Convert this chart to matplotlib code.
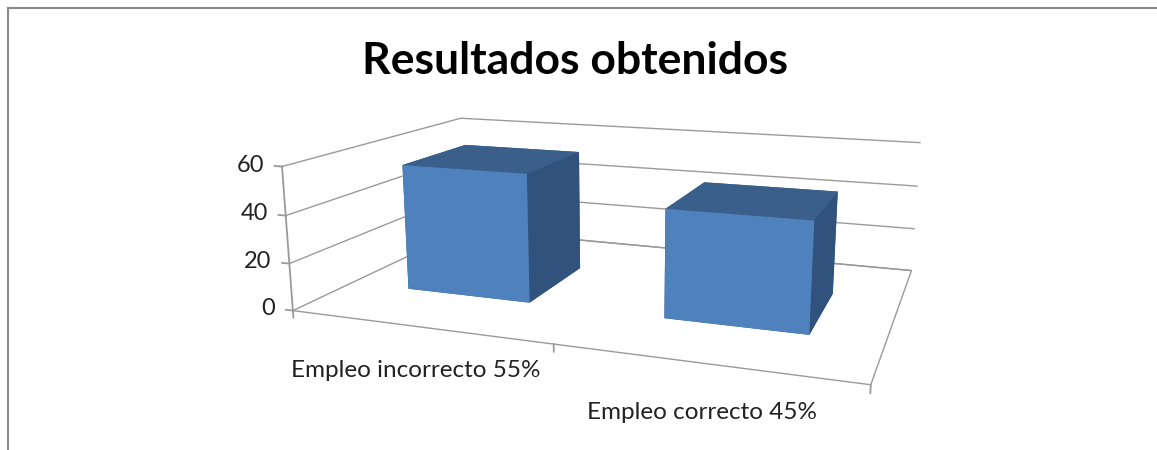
# Resultados obtenidos - 3D bars
import numpy as np
import matplotlib
matplotlib.use('Agg')
import matplotlib.pyplot as plt
from matplotlib.lines import Line2D

categories = ['Empleo incorrecto 55%', 'Empleo correcto 45%']
values = [55, 45]
z_ticks = [0, 20, 40, 60]
x_ticks = [0, 1, 2]
title = 'Resultados obtenidos'

W, H = 1157, 450
fig = plt.figure(figsize=(W/100, H/100), dpi=100, facecolor='white')

# Big square axes so the box can fill the wide figure
ax = fig.add_axes([0.0235, -0.815, 1.0, 1157/450], projection='3d', computed_zorder=False)
ax.set_axis_off()
ax.patch.set_visible(False)
ax.set_proj_type('persp', focal_length=0.17)
ax.view_init(elev=13.5, azim=-70)
ax.set_box_aspect((2.6, 1.65, 0.67), zoom=0.55)
ax.set_xlim(0, 2)
ax.set_ylim(0, 1)
ax.set_zlim(0, 60)

line_col = '#9a9a9a'
# gridlines on the walls
for z in z_ticks:
    ax.plot([0, 0, 2], [0, 1, 1], [z, z, z], color=line_col, lw=1, zorder=1)
# floor and verticals
ax.plot([0, 2, 2, 0], [0, 0, 1, 1], [0, 0, 0, 0], color=line_col, lw=1, zorder=1)
ax.plot([0, 0], [0, 0], [0, 60], color=line_col, lw=1.3, zorder=1)

# Bars
colors = ['#3a5f8b', '#3a5f8b', '#4f81bd', '#3a5f8b', '#30527c', '#30527c']
bar_w = 0.5
bar_d = 0.38
for i, v in enumerate(values):
    ax.bar3d(i*1.01 + 0.245, 0.29, 0, bar_w, bar_d, v, shade=False, color=colors, zorder=3+i)

# Tick marks and labels
for z in z_ticks:
    ax.plot([0, -0.03], [0, 0], [z, z], color=line_col, lw=1.3, zorder=1)
    ax.text(-0.075, 0, z, str(z), fontsize=17, family='Lato', color='#222222',
            ha='right', va='center', zorder=5)
for x in x_ticks:
    ax.plot([x, x], [0, 0], [0, -3], color=line_col, lw=1.3, zorder=1)
for i, c in enumerate(categories):
    ax.text(i*0.89 + 0.705, -0.28, 0, c, fontsize=17.5, family='Lato', color='#222222',
            ha='center', va='center', zorder=5)

fig.text(575/W, 1 - 61/H, title, fontsize=32, fontweight='bold', family='Lato',
         ha='center', va='center', color='black')

# Outer frame
frame_col = '#8a8a8a'
fig.add_artist(Line2D([8/W, 8/W], [0, 1 - 8/H], color=frame_col, lw=1.5))
fig.add_artist(Line2D([8/W, 1], [1 - 8/H, 1 - 8/H], color=frame_col, lw=1.5))

fig.savefig('out.png', dpi=100)
